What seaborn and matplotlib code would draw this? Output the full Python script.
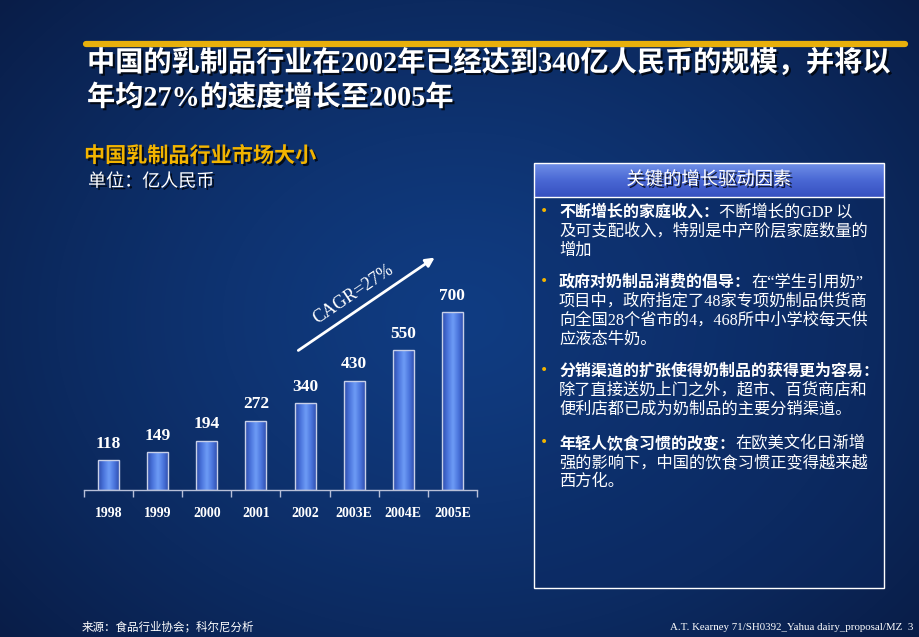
import numpy as np
import pandas as pd
import matplotlib
matplotlib.use("Agg")
import matplotlib.pyplot as plt
import matplotlib.patheffects as pe
from matplotlib.patches import Rectangle
from matplotlib.colors import LinearSegmentedColormap
import seaborn as sns

# ---------------- data ----------------
years = ["1998", "1999", "2000", "2001", "2002", "2003E", "2004E", "2005E"]
market_size = [118, 149, 194, 272, 340, 430, 550, 700]

title_lines = ["中国的乳制品行业在2002年已经达到340亿人民币的规模，并将以",
               "年均27%的速度增长至2005年"]
chart_title = "中国乳制品行业市场大小"
unit_label = "单位：亿人民币"
cagr_label = "CAGR=27%"
box_title = "关键的增长驱动因素"
drivers = [
    [("不断增长的家庭收入：", "不断增长的GDP 以"),
     ("", "及可支配收入，特别是中产阶层家庭数量的"),
     ("", "增加")],
    [("政府对奶制品消费的倡导：", "在“学生引用奶”"),
     ("", "项目中，政府指定了48家专项奶制品供货商"),
     ("", "向全国28个省市的4，468所中小学校每天供"),
     ("", "应液态牛奶。")],
    [("分销渠道的扩张使得奶制品的获得更为容易：", ""),
     ("", "除了直接送奶上门之外，超市、百货商店和"),
     ("", "便利店都已成为奶制品的主要分销渠道。")],
    [("年轻人饮食习惯的改变：", "在欧美文化日渐增"),
     ("", "强的影响下，中国的饮食习惯正变得越来越"),
     ("", "西方化。")],
]
source_text = "来源：食品行业协会；科尔尼分析"
footer_text = "A.T. Kearney 71/SH0392_Yahua dairy_proposal/MZ  3"

# ---------------- setup ----------------
sns.set_theme(style="white")
CJK = ["Liberation Serif", "Noto Sans CJK SC", "DejaVu Sans"]
plt.rcParams["font.family"] = CJK
plt.rcParams["axes.unicode_minus"] = False

W, H = 920, 637
fig = plt.figure(figsize=(W / 100, H / 100), dpi=100)
fig.patch.set_facecolor("#0b2250")


def fx(x):
    return x / W


def fy(y):
    return 1 - y / H


# background gradient
bg = fig.add_axes([0, 0, 1, 1], zorder=-10)
yy, xx = np.mgrid[0:1:H * 1j, 0:1:W * 1j]
d = np.sqrt(((xx - 0.5) / 0.75) ** 2 + ((yy - 0.5) / 0.85) ** 2)
d = np.clip(d, 0, 1)
c0 = np.array([0x10, 0x3c, 0x82]) / 255
c1 = np.array([0x08, 0x18, 0x3e]) / 255
img = c0[None, None, :] * (1 - d[..., None] ** 1.3) + c1[None, None, :] * (d[..., None] ** 1.3)
bg.imshow(img, aspect="auto", extent=[0, 1, 0, 1], origin="upper")
bg.set_xlim(0, 1)
bg.set_ylim(0, 1)
bg.axis("off")

shadow = [pe.SimplePatchShadow(offset=(1.5, -1.5), shadow_rgbFace="black", alpha=0.75), pe.Normal()]

# gold rule and title
fig.add_artist(plt.Line2D([fx(86), fx(905)], [fy(44), fy(44)], color="#e8b00c", lw=4.5,
                          transform=fig.transFigure))
for i, line in enumerate(title_lines):
    fig.text(fx(87), fy(63 + 35 * i), line, color="white", fontsize=20.3, fontweight="bold",
             va="center", ha="left", family=CJK, path_effects=shadow)

fig.text(fx(84), fy(157), chart_title, color="#f2b400", fontsize=15.2, fontweight="bold",
         va="center", ha="left", family=CJK, path_effects=shadow)
fig.text(fx(88), fy(182), unit_label, color="white", fontsize=13,
         va="center", ha="left", family=CJK, path_effects=shadow)

# ---------------- bar chart ----------------
ax = fig.add_axes([fx(84), fy(490), fx(477) - fx(84), (490 - 261) / H])
ax.set_facecolor("none")
df = pd.DataFrame({"year": years, "value": market_size})
sns.barplot(data=df, x="year", y="value", color="#4a72d8", width=0.43, ax=ax,
            edgecolor="#c8d0e8", linewidth=1.0)
ax.set_xlim(-0.5, len(years) - 0.5)
ax.set_ylim(0, 900)

bar_cmap = LinearSegmentedColormap.from_list(
    "bar", ["#2c4aa8", "#4a74dc", "#6e9cf6", "#4a74dc", "#2c4aa8"])
grad = np.linspace(0, 1, 256).reshape(1, -1)
for p in ax.patches:
    x0, y0 = p.get_x(), p.get_y()
    w, h = p.get_width(), p.get_height()
    im = ax.imshow(grad, cmap=bar_cmap, aspect="auto", extent=[x0, x0 + w, y0, y0 + h],
                   zorder=p.get_zorder() - 0.1, interpolation="bicubic")
    im.set_clip_path(p)
    p.set_facecolor("none")

for i, v in enumerate(market_size):
    ax.annotate(str(v), (i, v), xytext=(0, 6), textcoords="offset points",
                ha="center", va="bottom", color="white", fontsize=12.5, fontweight="bold",
                family="Liberation Serif")

for s in ["top", "right", "left"]:
    ax.spines[s].set_visible(False)
ax.spines["bottom"].set_color("#b8c0d8")
ax.spines["bottom"].set_linewidth(1.0)
ax.set_yticks([])
ax.set_xlabel("")
ax.set_ylabel("")
ax.set_xticks(range(len(years)))
ax.set_xticklabels(years)
ax.set_xticks(np.arange(-0.5, len(years), 1.0), minor=True)
ax.tick_params(axis="x", which="major", length=0, pad=12, labelcolor="white", labelsize=10)
ax.tick_params(axis="x", which="minor", length=5, width=1, color="#b8c0d8", direction="out",
               bottom=True)
for lab in ax.get_xticklabels():
    lab.set_fontweight("bold")
    lab.set_family("Liberation Serif")

# CAGR arrow
fig.add_artist(matplotlib.patches.FancyArrowPatch(
    (fx(296), fy(352)), (fx(437), fy(256)), transform=fig.transFigure,
    arrowstyle="-|>", mutation_scale=13, color="white", lw=2))
fig.text(fx(353), fy(294), cagr_label, rotation=34, rotation_mode="anchor", color="white",
         fontsize=13, family="Liberation Serif", ha="center", va="center")

# ---------------- key drivers box ----------------
bx0, by0, bx1, by1 = 534, 163, 884, 588
fig.add_artist(Rectangle((fx(bx0), fy(by1)), fx(bx1 - bx0), (by1 - by0) / H,
                         transform=fig.transFigure, facecolor="#0c2a64", alpha=0.35,
                         edgecolor="none", zorder=1))
hdr_cmap = LinearSegmentedColormap.from_list("hdr", ["#3650c0", "#4a68d4", "#7090e8"])
hax = fig.add_axes([fx(bx0), fy(197), fx(bx1 - bx0), (197 - by0) / H], zorder=2)
hax.imshow(np.linspace(0, 1, 64).reshape(-1, 1), cmap=hdr_cmap, aspect="auto", origin="lower",
           extent=[0, 1, 0, 1])
hax.axis("off")
fig.add_artist(Rectangle((fx(bx0), fy(by1)), fx(bx1 - bx0), (by1 - by0) / H,
                         transform=fig.transFigure, facecolor="none",
                         edgecolor="white", lw=1.0, zorder=3))
fig.add_artist(plt.Line2D([fx(bx0), fx(bx1)], [fy(197), fy(197)], color="white", lw=1.0,
                          transform=fig.transFigure, zorder=3))
fig.text(fx(709), fy(180), box_title, color="white", fontsize=13.2, ha="center", va="center",
         family=CJK, zorder=4, path_effects=shadow)

renderer = fig.canvas.get_renderer()
start_y = [211, 281, 370, 442]
step = 19
for para, y0 in zip(drivers, start_y):
    fig.text(fx(544), fy(y0), "•", color="#f2b400", fontsize=10, ha="center", va="center",
             family="DejaVu Sans", zorder=4)
    for k, (bold, reg) in enumerate(para):
        y = fy(y0 + step * k)
        x = fx(559)
        if bold:
            t = fig.text(x, y, bold, color="white", fontsize=11.5, fontweight="bold",
                         ha="left", va="center_baseline", family=CJK, zorder=4)
            bb = t.get_window_extent(renderer=renderer)
            x = bb.x1 / W
        if reg:
            fig.text(x, y, reg, color="white", fontsize=11.7, ha="left",
                     va="center_baseline", family=CJK, zorder=4)

# footer
fig.text(fx(82), fy(627), source_text, color="white", fontsize=8.3, ha="left", va="center",
         family=CJK)
fig.text(fx(913), fy(627), footer_text, color="white", fontsize=7.8, ha="right", va="center",
         family="Liberation Serif")

fig.savefig("out.png", dpi=100, facecolor=fig.get_facecolor())
